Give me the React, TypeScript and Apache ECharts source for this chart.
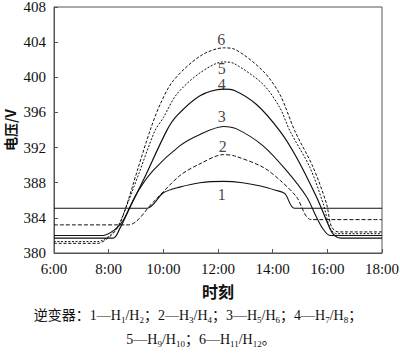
import React, { useEffect, useRef } from 'react';
import * as echarts from 'echarts';

// x: time of day in hours, y: voltage (V)
const xTickValues = [6, 8, 10, 12, 14, 16, 18];
const yTickValues = [380, 384, 388, 392, 396, 400, 404, 408];

const curve1: [number, number][] = [
  [6, 385.1], [9.4, 385.1], [10.0, 386.85], [10.6, 387.5], [11.34, 388.0], [12.2, 388.15],
  [12.9, 388.0], [13.6, 387.6], [14.1, 387.15], [14.45, 386.75], [14.8, 385.1], [18, 385.1],
];
const curve2: [number, number][] = [
  [6, 383.2], [8.72, 383.2], [9.63, 385.8], [10.6, 388.8], [11.34, 390.15], [12.2, 391.2],
  [12.6, 391.05], [13.65, 389.76], [14.3, 388.2], [14.87, 386.4], [15.42, 383.8], [18, 383.8],
];
const curve3: [number, number][] = [
  [6, 382.0], [7.8, 382.0], [8.2, 382.6], [8.53, 383.7], [9.02, 386.75], [9.63, 389.4],
  [10.6, 392.2], [11.34, 393.5], [12.2, 394.4], [12.7, 394.1], [13.65, 392.2], [14.5, 389.4],
  [15.24, 386.4], [15.6, 384.1], [15.85, 382.7], [16.1, 382.0], [18, 382.0],
];
const curve4: [number, number][] = [
  [6, 381.7], [8.16, 381.7], [8.41, 382.8], [8.78, 385.2], [9.27, 388.3], [10.12, 393.9],
  [10.49, 395.6], [11.34, 397.9], [12.2, 398.65], [12.6, 398.5], [13.41, 396.9], [14.26, 393.9],
  [14.87, 390.9], [15.6, 386.4], [15.97, 383.7], [16.2, 382.2], [16.5, 381.7], [18, 381.7],
];
const curve5: [number, number][] = [
  [6, 381.3], [7.6, 381.3], [8.05, 382.0], [8.35, 383.1], [8.65, 385.3], [9.1, 389.0],
  [9.69, 393.9], [10.0, 395.4], [10.49, 398.07], [11.34, 400.5], [12.2, 401.75], [12.6, 401.55],
  [13.65, 399.2], [14.26, 396.55], [14.63, 393.9], [15.36, 389.76], [15.85, 385.6],
  [16.1, 382.8], [16.35, 382.2], [18, 382.2],
];
const curve6: [number, number][] = [
  [6, 381.1], [7.6, 381.1], [8.05, 381.9], [8.35, 383.0], [8.6, 384.9], [9.05, 389.4],
  [9.51, 393.9], [9.88, 396.9], [10.36, 399.6], [11.34, 402.4], [12.2, 403.35], [12.6, 403.2],
  [13.65, 400.7], [14.26, 398.07], [14.81, 393.9], [15.48, 389.76], [15.97, 385.6],
  [16.15, 383.0], [16.4, 382.4], [18, 382.4],
];

const curveNames = ['1', '2', '3', '4', '5', '6'];
const labelTimes = [12.14, 12.17, 12.14, 12.14, 12.14, 12.12];
const labelValues = [386.7, 392.1, 395.5, 399.2, 401.0, 404.3];

const footerLine1 =
  '{n|逆变器：1—H}{s|1}{n|/H}{s|2}{n|；2—H}{s|3}{n|/H}{s|4}{n|；3—H}{s|5}{n|/H}{s|6}{n|；4—H}{s|7}{n|/H}{s|8}{n|；}';
const footerLine2 = '{n|5—H}{s|9}{n|/H}{s|10}{n|；6—H}{s|11}{n|/H}{s|12}{n|。}';

const SERIF = 'Liberation Serif, Noto Sans CJK SC, serif';
const INK = '#111';

export default function App() {
  const ref = useRef<HTMLDivElement>(null);

  useEffect(() => {
    document.body.style.margin = '0';
    if (!ref.current) return;
    const chart = echarts.init(ref.current, undefined, { renderer: 'svg' });

    const lineBase = (name: string, data: [number, number][], dash: any, width = 1) => ({
      name,
      type: 'line',
      data,
      smooth: 0.3,
      showSymbol: false,
      symbol: 'none',
      silent: true,
      lineStyle: { color: INK, width, type: dash },
    });

    const rich = {
      n: { fontSize: 14, fontFamily: SERIF, color: INK, lineHeight: 20, verticalAlign: 'middle' },
      s: { fontSize: 9, fontFamily: SERIF, color: INK, lineHeight: 11, verticalAlign: 'bottom' },
    };

    chart.setOption({
      animation: false,
      backgroundColor: '#fff',
      grid: {
        left: 54,
        right: 18,
        top: 7,
        bottom: 100,
        containLabel: false,
        outerBoundsMode: 'none',
        show: true,
        borderColor: '#555',
        borderWidth: 1,
        backgroundColor: 'transparent',
      },
      xAxis: {
        type: 'value',
        min: 6,
        max: 18,
        interval: 2,
        name: '时刻',
        nameLocation: 'middle',
        nameGap: 30,
        nameMoveOverlap: false,
        nameTextStyle: { fontSize: 16, fontWeight: 'bold', fontFamily: 'Noto Sans CJK SC', color: INK },
        axisLine: { show: true, lineStyle: { color: '#555', width: 1 } },
        axisTick: { show: true, inside: true, length: 4, lineStyle: { color: '#555' } },
        splitLine: { show: false },
        axisLabel: {
          fontSize: 15,
          fontFamily: SERIF,
          color: INK,
          margin: 8,
          formatter: (v: number) => (xTickValues.includes(v) ? `${v}:00` : ''),
        },
      },
      yAxis: {
        type: 'value',
        min: 380,
        max: 408,
        interval: 4,
        name: '电压/V',
        nameLocation: 'middle',
        nameGap: 37,
        nameMoveOverlap: false,
        nameTextStyle: { fontSize: 14, lineHeight: 15, fontWeight: 'bold', fontFamily: 'Noto Sans CJK SC', color: INK },
        axisLine: { show: true, lineStyle: { color: '#555', width: 1 } },
        axisTick: { show: true, inside: true, length: 4, lineStyle: { color: '#555' } },
        splitLine: { show: false },
        axisLabel: {
          fontSize: 15,
          fontFamily: SERIF,
          color: INK,
          margin: 8,
          formatter: (v: number) => (yTickValues.includes(v) ? String(v) : ''),
        },
      },
      series: [
        lineBase('1', curve1, 'solid', 1.1),
        lineBase('2', curve2, [4, 2], 1),
        lineBase('3', curve3, 'solid', 1.1),
        lineBase('4', curve4, 'solid', 1.2),
        lineBase('5', curve5, [2, 1.6], 1),
        lineBase('6', curve6, [3, 1.8], 1),
        {
          type: 'scatter',
          silent: true,
          symbolSize: 1,
          itemStyle: { color: 'rgba(0,0,0,0)' },
          z: 5,
          data: curveNames.map((n, i) => ({ name: n, value: [labelTimes[i], labelValues[i]] })),
          label: {
            show: true,
            position: 'inside',
            formatter: '{b}',
            fontSize: 16,
            lineHeight: 12,
            fontFamily: SERIF,
            color: INK,
          },
        },
      ],
      graphic: [
        {
          type: 'text',
          x: 198,
          y: 315,
          silent: true,
          style: { text: footerLine1, rich, textAlign: 'center', textVerticalAlign: 'middle', fill: INK },
        },
        {
          type: 'text',
          x: 201,
          y: 339,
          silent: true,
          style: { text: footerLine2, rich, textAlign: 'center', textVerticalAlign: 'middle', fill: INK },
        },
      ],
    });

    return () => chart.dispose();
  }, []);

  return <div ref={ref} style={{ width: 400, height: 353 }} />;
}
